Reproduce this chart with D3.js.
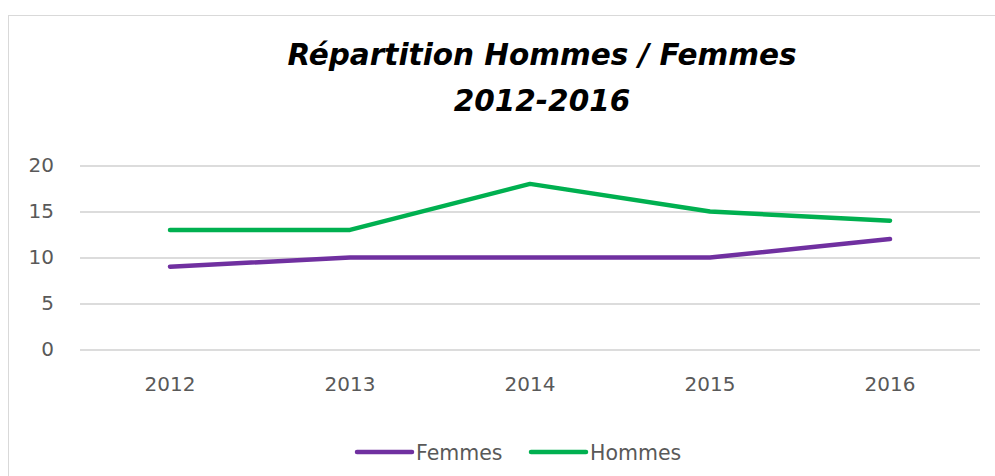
<!DOCTYPE html>
<html><head><meta charset="utf-8">
<script src="https://cdn.jsdelivr.net/npm/d3@7"></script>
<style>body{margin:0;background:#fff;}svg{display:block;}</style>
</head><body>
<svg id="c" width="995" height="476"></svg>
<script>
const years = ["2012","2013","2014","2015","2016"];
const femmes = [9, 10, 10, 10, 12];
const hommes = [13, 13, 18, 15, 14];
const yTicks = [0, 5, 10, 15, 20];
const seriesNames = ["Femmes", "Hommes"];
const seriesColors = ["#7030A0", "#00B050"];
const titleLines = ["Répartition Hommes / Femmes", "2012-2016"];

const svg = d3.select("#c");
svg.append("rect").attr("x",8.5).attr("y",15.5).attr("width",1000).attr("height",500)
  .attr("fill","#fff").attr("stroke","#d9d9d9").attr("stroke-width",1);

const x = d3.scaleBand().domain(years).range([80, 980]);
const y = d3.scaleLinear().domain([0, 20]).range([349.5, 165.5]);

const yAxis = d3.axisLeft(y).tickValues(yTicks).tickSize(-900).tickPadding(26);
const gy = svg.append("g").attr("transform","translate(80,0)").call(yAxis);
gy.select(".domain").remove();
gy.selectAll(".tick line").attr("stroke","#dcdcdc").attr("stroke-width",2);
gy.selectAll(".tick text").attr("fill","#595959").style("font-family","'DejaVu Sans', sans-serif").style("font-size","20px");

const xAxis = d3.axisBottom(x).tickSize(0).tickPadding(27);
const gx = svg.append("g").attr("transform","translate(0,349.5)").call(xAxis);
gx.select(".domain").remove();
gx.selectAll(".tick text").attr("fill","#595959").style("font-family","'DejaVu Sans', sans-serif").style("font-size","20px");

const line = d3.line().x((d,i)=>x(years[i]) + x.bandwidth()/2).y(d=>y(d));
[femmes, hommes].forEach((s,i)=>{
  svg.append("path").datum(s).attr("d", line).attr("fill","none")
    .attr("stroke", seriesColors[i]).attr("stroke-width",4.5)
    .attr("stroke-linecap","round").attr("stroke-linejoin","round");
});

const tfont = "'DejaVu Sans', sans-serif";
[[65, titleLines[0]], [111, titleLines[1]]].forEach(([ty, t])=>{
  svg.append("text").attr("x",542).attr("y",ty).attr("text-anchor","middle")
    .style("font-family",tfont).style("font-size","29.5px").style("font-weight","bold").style("font-style","italic")
    .attr("fill","#000").text(t);
});

const legX = [357, 531];
seriesNames.forEach((n,i)=>{
  const g = svg.append("g").attr("transform",`translate(${legX[i]},452)`);
  g.append("line").attr("x1",0).attr("x2",55).attr("y1",0).attr("y2",0)
    .attr("stroke",seriesColors[i]).attr("stroke-width",4.5).attr("stroke-linecap","round");
  g.append("text").attr("x",59).attr("y",7.5).attr("fill","#595959")
    .style("font-family","'DejaVu Sans', sans-serif").style("font-size","20.5px").text(n);
});
</script>
</body></html>
